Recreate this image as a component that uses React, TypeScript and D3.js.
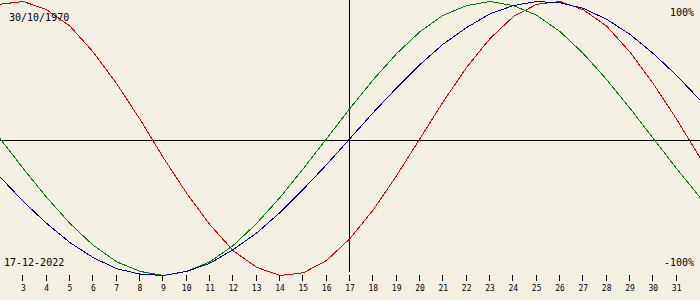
import React from "react";
import * as d3 from "d3";

const days: number[] = [2,3,4,5,6,7,8,9,10,11,12,13,14,15,16,17,18,19,20,21,22,23,24,25,26,27,28,29,30,31,32];
const tickDays: number[] = [3,4,5,6,7,8,9,10,11,12,13,14,15,16,17,18,19,20,21,22,23,24,25,26,27,28,29,30,31];
const physical: number[] = [0.98,1.00,0.94,0.82,0.63,0.40,0.14,-0.14,-0.40,-0.63,-0.82,-0.94,-1.00,-0.98,-0.89,-0.73,-0.52,-0.27,0,0.27,0.52,0.73,0.89,0.98,1.00,0.94,0.82,0.63,0.40,0.14,-0.14];
const emotional: number[] = [0,-0.22,-0.43,-0.62,-0.78,-0.90,-0.97,-1.00,-0.97,-0.90,-0.78,-0.62,-0.43,-0.22,0,0.22,0.43,0.62,0.78,0.90,0.97,1.00,0.97,0.90,0.78,0.62,0.43,0.22,0,-0.22,-0.43];
const intellectual: number[] = [-0.28,-0.46,-0.62,-0.76,-0.87,-0.95,-0.99,-1.00,-0.97,-0.91,-0.81,-0.69,-0.54,-0.37,-0.19,0,0.19,0.37,0.54,0.69,0.81,0.91,0.97,1.00,0.99,0.95,0.87,0.76,0.62,0.46,0.28];
const currentDay = 17;
const birthLabel = "30/10/1970";
const dateLabel = "17-12-2022";
const topLabel = "100%";
const bottomLabel = "-100%";

const W = 700, H = 300;

export default function App() {
  const x = d3.scaleLinear().domain([2, 32]).range([0, W]);
  const y = d3.scaleLinear().domain([-1, 1]).range([275.5, 1.5]);
  const line = d3.line<number>().x((_, i) => x(days[i])).y((v) => y(v));
  const series = [
    { vals: physical, color: "#e00000" },
    { vals: emotional, color: "#008000" },
    { vals: intellectual, color: "#0000a0" },
  ];
  const mono = "'DejaVu Sans Mono', monospace";
  return (
    <svg width={W} height={H} style={{ position: "fixed", left: 0, top: 0, display: "block" }}>
      <rect x={0} y={0} width={W} height={H} fill="#f3efe3" />
      <line x1={0} x2={W} y1={140.5} y2={140.5} stroke="#000" strokeWidth={1} shapeRendering="crispEdges" />
      <line x1={x(currentDay) - 0.5} x2={x(currentDay) - 0.5} y1={0} y2={272} stroke="#000" strokeWidth={1} shapeRendering="crispEdges" />
      {series.map((s, i) => (
        <path key={i} d={line(s.vals) || ""} fill="none" stroke={s.color} strokeWidth={1} shapeRendering="crispEdges" />
      ))}
      {tickDays.map((d) => (
        <g key={d}>
          <line x1={Math.round(x(d)) - 0.5} x2={Math.round(x(d)) - 0.5} y1={275} y2={281} stroke="#000" strokeWidth={1} shapeRendering="crispEdges" />
          <text x={x(d)} y={291} textAnchor="middle" fontFamily={mono} fontSize={8} fill="#000">{d}</text>
        </g>
      ))}
      <text x={9} y={21} fontFamily={mono} fontSize={10} fill="#000">{birthLabel}</text>
      <text x={4} y={266} fontFamily={mono} fontSize={10} fill="#000">{dateLabel}</text>
      <text x={694} y={16} textAnchor="end" fontFamily={mono} fontSize={10} fill="#000">{topLabel}</text>
      <text x={694} y={266} textAnchor="end" fontFamily={mono} fontSize={10} fill="#000">{bottomLabel}</text>
    </svg>
  );
}
